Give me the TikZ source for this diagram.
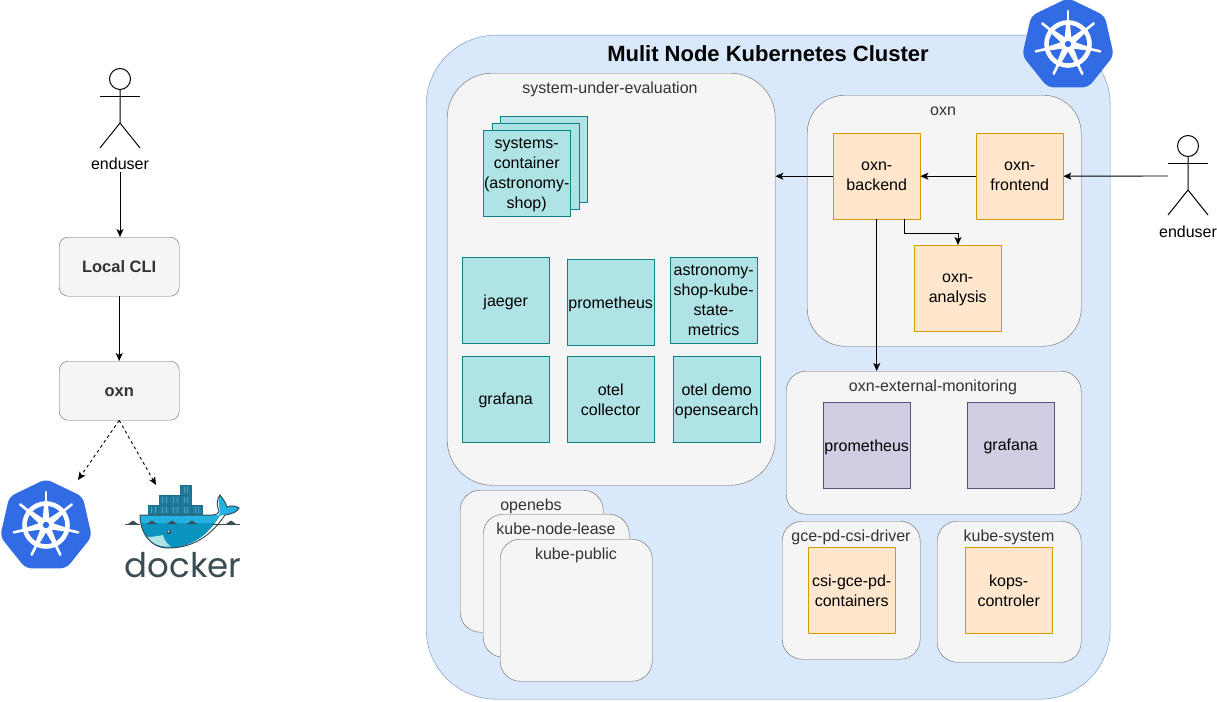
\documentclass[tikz,border=0pt]{standalone}
\usepackage{fontspec}
\setmainfont{Liberation Sans}
\newfontfamily\dockerfont{Poppins}
\usetikzlibrary{arrows.meta}
\definecolor{clusterfill}{HTML}{DAE8FC}
\definecolor{clusterline}{HTML}{6C8EBF}
\definecolor{groupfill}{HTML}{F5F5F5}
\definecolor{groupline}{HTML}{666666}
\definecolor{tealfill}{HTML}{B0E3E6}
\definecolor{tealline}{HTML}{0E8088}
\definecolor{orangefill}{HTML}{FFE6CC}
\definecolor{orangeline}{HTML}{D79B00}
\definecolor{purplefill}{HTML}{D0CEE2}
\definecolor{purpleline}{HTML}{56517E}
\definecolor{kubeblue}{HTML}{326CE5}
\definecolor{dockerdark}{HTML}{394D54}
\definecolor{dockerlight}{HTML}{24B0E0}
\definecolor{dockermid}{HTML}{0A94BF}
\definecolor{dockerbox}{HTML}{1B6F8C}
\tikzset{
  base/.style={rectangle, draw, anchor=north west, inner sep=0pt, align=center, text depth=0pt, execute at begin node=\rule{0pt}{11.5pt}},
  group/.style={base, fill=groupfill, draw=groupline},
  grouplabel/.style={text=black!80, inner sep=0pt, text depth=0pt, text height=11.5pt},
  tealbox/.style={base, fill=tealfill, draw=tealline, minimum width=87pt, minimum height=86pt},
  orangebox/.style={base, fill=orangefill, draw=orangeline, minimum width=87pt, minimum height=86pt},
  purplebox/.style={base, fill=purplefill, draw=purpleline, minimum width=87pt, minimum height=86pt},
  localbox/.style={group, text=black!80, rounded corners=9pt, minimum width=120pt, minimum height=59pt, font=\fontsize{16.5}{20}\selectfont\bfseries},
  arrow/.style={-{Stealth[length=8pt, width=7pt, inset=2pt]}, line width=0.9pt},
  kubelogo/.pic={
    \fill[kubeblue, rounded corners=6pt] (-90:47) -- (-38.6:47) -- (12.9:47) -- (64.3:47) -- (115.7:47) -- (167.1:47) -- (218.6:47) -- cycle;
    \begin{scope}[shift={(0,-1)}]
    \draw[white, line width=4.6pt] (0,0) circle (21.5pt);
    \foreach \a in {-90,-38.6,12.9,64.3,115.7,167.1,218.6} {
      \draw[white, line width=2.6pt, line cap=round] (0,0) -- (\a:33);
      \fill[white] (\a-28:7) -- (\a-4:24) -- (\a+4:24) -- (\a+28:7) -- cycle;
    }
    \fill[white] (0,0) circle (8pt);
    \fill[kubeblue] (0,0) circle (3.2pt);
    \end{scope}
  },
  actor/.pic={
    \draw[line width=1pt] (0,-29) circle (10.5pt);
    \draw[line width=1pt] (-20,-12) -- (20,-12);
    \draw[line width=1pt] (0,-18.5) -- (0,15) (-20,40) -- (0,15) -- (20,40);
  }
}
\begin{document}
\begin{tikzpicture}[x=1pt, y=-1pt, font=\fontsize{16}{20}\selectfont]
\useasboundingbox (0,0) rectangle (1217,701);

% cluster
\node (cluster) [base, fill=clusterfill, draw=clusterline, rounded corners=70pt, minimum width=684pt, minimum height=664pt] at (426,35) {};
\node (clustertitle) [font=\fontsize{22}{26}\selectfont\bfseries] at (768,54) {Mulit Node Kubernetes Cluster};
\pic at (1068,45) {kubelogo};

% system under evaluation
\node (sue) [group, rounded corners=45pt, minimum width=328pt, minimum height=412pt] at (447,73) {};
\node (suelabel) [grouplabel] at (610,88) {system-under-evaluation};
\node (stackC) [tealbox] at (500,116) {};
\node (stackB) [tealbox] at (492,123) {};
\node (stackA) [tealbox] at (483,130) {systems-\\container\\(astronomy-\\shop)};
\node (jaeger) [tealbox] at (462,257) {jaeger};
\node (promA) [tealbox] at (567,259) {prometheus};
\node (metrics) [tealbox] at (670,257) {astronomy-\\shop-kube-\\state-\\metrics};
\node (grafA) [tealbox] at (462,356) {grafana};
\node (otel) [tealbox] at (567,356) {otel\\collector};
\node (opensearch) [tealbox] at (673,356) {otel demo\\opensearch};

% oxn
\node (oxngroup) [group, rounded corners=38pt, minimum width=274pt, minimum height=251pt] at (807,95) {};
\node (oxnlabel) [grouplabel] at (943,110) {oxn};
\node (backend) [orangebox] at (833,133) {oxn-\\backend};
\node (frontend) [orangebox] at (976,133) {oxn-\\frontend};
\node (analysis) [orangebox] at (914,245) {oxn-\\analysis};

% monitoring
\node (monitor) [group, rounded corners=20pt, minimum width=295pt, minimum height=143pt] at (786,371) {};
\node (monitorlabel) [grouplabel] at (933,386) {oxn-external-monitoring};
\node (promB) [purplebox] at (823,402) {prometheus};
\node (grafB) [purplebox] at (967,402) {grafana};

% drivers
\node (gce) [group, rounded corners=20pt, minimum width=138pt, minimum height=138pt] at (782,521) {};
\node (gcelabel) [grouplabel] at (851,536) {gce-pd-csi-driver};
\node (csi) [orangebox] at (808,547) {csi-gce-pd-\\containers};
\node (kubesystem) [group, rounded corners=20pt, minimum width=144pt, minimum height=141pt] at (937,521) {};
\node (kubesystemlabel) [grouplabel] at (1009,536) {kube-system};
\node (kops) [orangebox] at (965,547) {kops-\\controler};

% namespaces
\node (openebs) [group, rounded corners=20pt, minimum width=143pt, minimum height=142pt] at (460,490) {};
\node (openebslabel) [grouplabel] at (531,505) {openebs};
\node (lease) [group, rounded corners=20pt, minimum width=146pt, minimum height=143pt] at (483,514) {};
\node (leaselabel) [grouplabel] at (556,529) {kube-node-lease};
\node (public) [group, rounded corners=20pt, minimum width=152pt, minimum height=142pt] at (500,539) {};
\node (publiclabel) [grouplabel] at (576,554) {kube-public};

% right enduser
\node (actorR) [minimum width=40pt, minimum height=80pt, inner sep=0pt] at (1188,176) {};
\pic at (1188,175) {actor};
\node (actorRlabel) [inner sep=0pt] at (1188,232) {enduser};

% left side
\node (actorLlabel) [inner sep=2pt] at (120,164) {enduser};
\pic at (120,108) {actor};
\node (cli) [localbox] at (59,237) {Local CLI};
\node (oxnlocal) [localbox] at (59,361) {oxn};
\pic at (46,526) {kubelogo};
\coordinate (kubetip) at (78,480);
\coordinate (dockertip) at (156,485);

% docker whale
\foreach \x/\y in {148/505,158.8/505,169.6/505,180.4/505,191.2/505,159/495,169.6/495,180.4/495,180.4/485} {
  \draw[dockerbox, fill=dockerbox!80!dockerlight, line width=0.8pt] (\x,\y) rectangle ++(10.8,10.2);
  \draw[dockerbox!60!tealfill, line width=0.5pt] (\x+3.6,\y+2) -- ++(0,6.2) (\x+7.2,\y+2) -- ++(0,6.2);
}
\fill[dockermid] (140,515) -- (210,515) -- (220,515) .. controls (212,530) and (195,548) .. (168,548) .. controls (150,548) and (140,532) .. (140,515) -- cycle;
\fill[dockerlight] (140,515) -- (220,515) .. controls (218,519) and (216,521) .. (214,523) -- (140,523) -- cycle;
\fill[tealfill] (147,537) .. controls (153,537) and (158,536) .. (163,535) .. controls (164,540) and (167,544) .. (171,546.5) .. controls (161,547.5) and (152,544) .. (147,537) -- cycle;
\fill[dockerlight] (220,495) .. controls (223,499) and (226,503) .. (227,507) .. controls (231,505) and (236,506) .. (239,508) .. controls (237,512) and (232,514) .. (228,514) -- (219,516) .. controls (222,510) and (216,502) .. (220,495) -- cycle;
\draw[dockerdark, line width=1pt] (140,515) -- (212,515) .. controls (216,515) and (219,513) .. (219,511) .. controls (216,504) and (217,499) .. (220,495) .. controls (223,499) and (226,503) .. (227,507) .. controls (231,505) and (236,506) .. (239,508) .. controls (237,512) and (232,514) .. (225,515) .. controls (212,534) and (195,548) .. (168,548) .. controls (150,548) and (140,532) .. (140,515) -- cycle;
\draw[dockerdark, line width=0.7pt] (125,524) -- (140,524) (212,524) -- (240,524);
\foreach \x/\y in {133/524,152/524,172/524,192/524,231/524}
  \fill[dockerdark] (\x-5,\y) -- (\x,\y-3.5) -- (\x+5,\y) -- cycle;
\fill[dockerdark] (169,532) circle (2.2pt);
\fill[white] (168.5,531.5) circle (0.8pt);
\node (dockerword) [font=\fontsize{34}{36}\selectfont\dockerfont, text=dockerdark, inner sep=0pt, anchor=base] at (183,577) {docker};

% connectors
\draw[arrow] (actorR.west) -- (frontend.east);
\draw[arrow] (frontend.west) -- (backend.east);
\draw[arrow] (backend.west) -- (sue.east |- backend.west);
\coordinate (elbowstart) at (904,219);
\coordinate (elbowturn) at (904,233);
\coordinate (elbowend) at (958,245);
\draw[arrow] (elbowstart) -- (elbowturn) -| (elbowend);
\draw[arrow] (backend.south) -- (backend.south |- monitor.north);
\draw[arrow] (actorLlabel.south) -- (actorLlabel.south |- cli.north);
\draw[arrow] (cli) -- (oxnlocal);
\draw[arrow, dashed] (oxnlocal.south) -- (kubetip);
\draw[arrow, dashed] (oxnlocal.south) -- (dockertip);
\end{tikzpicture}
\end{document}
